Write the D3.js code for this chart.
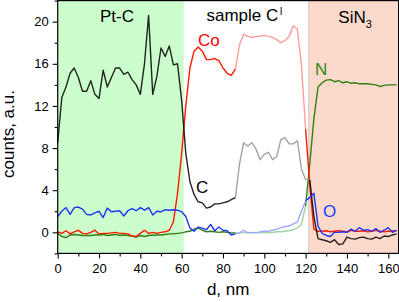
<!DOCTYPE html>
<html><head><meta charset="utf-8">
<script src="https://cdn.jsdelivr.net/npm/d3@7"></script>
<style>
html,body{margin:0;padding:0;background:#fff;}
svg{display:block;font-family:"Liberation Sans",Arial,sans-serif;}
</style></head>
<body><svg id="c" width="399" height="302"></svg>
<script>
// d, nm (step 2)
const depth = d3.range(0, 166, 2);
const seriesNames = ["C", "Co", "N", "O"];
const cValues = [8.5,12.8,13.8,15.1,15.6,14.7,13.4,13.4,14.4,13.1,12.7,15.4,13.8,14.7,15.6,15.6,15.0,15.2,14.5,14.0,
 13.1,16.0,20.6,13.1,14.8,17.5,16.7,17.7,15.9,16.0,12.5,7.5,4.8,3.6,2.9,2.8,2.3,2.4,2.7,2.7,
 2.8,2.9,3.1,3.3,6.5,8.5,8.2,8.5,7.9,6.9,7.4,7.6,6.9,7.2,8.8,9.0,8.4,8.4,8.7,6.0,
 5.0,5.0,1.5,-0.6,-0.7,-0.8,-0.95,-0.7,-1.15,-1.1,-0.45,-0.6,-0.65,-0.5,-0.45,-0.6,-0.65,-0.45,-0.6,-0.35,
 -0.4,-0.25,-0.15];
const coValues = [0.05,-0.1,0.15,-0.15,0.05,0.2,-0.1,-0.15,0.0,0.2,-0.15,-0.1,-0.1,-0.05,0.0,-0.1,-0.1,-0.15,-0.35,-0.4,
 -0.1,0.2,-0.1,0.0,-0.1,0.0,0.05,0.2,1.0,3.7,7.5,12.0,15.6,17.2,17.6,17.2,16.4,16.4,16.5,16.3,
 15.6,15.1,14.9,15.5,17.8,18.8,18.6,18.5,18.6,18.6,18.7,18.6,18.5,18.3,18.0,18.2,18.6,19.6,19.3,15.8,
 9.8,4.5,0.3,0.1,0.1,0.15,0.05,0.1,0.15,0.1,0.05,0.2,0.1,0.1,0.15,0.05,0.1,0.2,0.1,0.05,
 0.1,0.15,0.1];
const nValues = [-0.1,-0.4,-0.5,-0.25,-0.2,-0.25,-0.3,-0.3,-0.3,-0.25,-0.25,-0.2,-0.3,-0.25,-0.2,-0.3,-0.25,-0.3,-0.35,-0.45,
 -0.3,-0.4,-0.3,-0.25,-0.25,-0.25,-0.2,-0.15,-0.15,-0.1,-0.05,0.05,0.1,0.3,0.4,0.2,0.05,0.1,0.05,0.0,
 0.05,0.0,-0.05,-0.05,-0.05,-0.05,0.0,-0.05,0.0,-0.05,0.0,-0.05,0.0,0.05,0.05,0.1,0.15,0.25,0.4,0.8,
 2.5,6.5,10.8,13.8,14.2,14.45,14.5,14.3,14.4,14.2,14.3,14.15,14.2,14.1,14.1,14.1,14.05,14.0,13.85,13.95,
 14.0,14.0,14.0];
const oValues = [1.5,2.0,2.35,1.7,2.35,2.4,2.2,1.7,1.65,1.85,2.0,1.4,2.3,1.95,2.0,2.05,1.55,2.05,2.25,2.05,
 2.35,2.1,2.35,1.65,2.0,1.95,2.15,2.1,2.15,2.1,1.95,1.5,0.4,0.1,0.5,0.4,0.25,0.75,0.15,0.5,
 0.2,0.15,-0.25,-0.15,-0.05,0.2,-0.05,0.0,-0.05,0.05,0.1,0.1,0.2,0.3,0.45,0.55,0.6,0.8,1.0,2.0,
 3.0,3.3,3.7,0.6,-0.1,-0.3,-0.4,0.0,0.0,0.05,0.0,0.3,0.1,0.45,0.2,0.25,0.1,0.35,0.0,0.2,
 0.45,0.0,0.2];
// x-range where each curve is drawn faded (sample C region)
const fadeFrom = [86, 86, 86, 86];
const fadeTo = [122, 120, 120, 120];
const regionNames = ["Pt-C", "sample C", "SiN"];
const regionBounds = [[0, 61], [61, 121.5], [121.5, 165]];
const xTicks = [0,20,40,60,80,100,120,140,160];
const xMinor = [10,30,50,70,90,110,130,150];
const yTicks = [0,4,8,12,16,20];
const yMinor = [-2,2,6,10,14,18,22];

const svg = d3.select("#c");
const x = d3.scaleLinear().domain([0,165]).range([57.7,398.6]);
const y = d3.scaleLinear().domain([-2,22]).range([253.4,0.6]);

// regions
svg.append("rect").attr("x",x(regionBounds[0][0])).attr("y",y(22)).attr("width",x(regionBounds[0][1])-x(regionBounds[0][0])).attr("height",y(-2)-y(22)).attr("fill","#ccfdcc");
svg.append("rect").attr("x",x(regionBounds[2][0])).attr("y",y(22)).attr("width",x(regionBounds[2][1])-x(regionBounds[2][0])).attr("height",y(-2)-y(22)).attr("fill","#fcdacb");
svg.append("line").attr("x1",x(regionBounds[2][0])).attr("x2",x(regionBounds[2][0])).attr("y1",y(22)).attr("y2",y(-2)).attr("stroke","#cfc6c6").attr("stroke-width",1);

const dark = ["#000000","#ff1a00","#2f7f12","#1f36f0"];
const light = ["#a3a3a3","#ff9d9d","#9ed49a","#9ea8ff"];
const allVals = [cValues, coValues, nValues, oValues];
const line = d3.line().x(d=>x(d[0])).y(d=>y(d[1]));
const order = [2,1,0,3];
order.forEach(i=>{
  const pts = depth.map((d,k)=>[d, allVals[i][k]]);
  const a = pts.filter(p=>p[0]<=fadeFrom[i]);
  const b = pts.filter(p=>p[0]>=fadeFrom[i] && p[0]<=fadeTo[i]);
  const c = pts.filter(p=>p[0]>=fadeTo[i]);
  svg.append("path").attr("d",line(b)).attr("fill","none").attr("stroke",light[i]).attr("stroke-width",1.4).attr("stroke-linejoin","round");
  [a,c].forEach(seg=>{
    svg.append("path").attr("d",line(seg)).attr("fill","none").attr("stroke",dark[i]).attr("stroke-opacity", i===0?0.85:1).attr("stroke-width",1.4).attr("stroke-linejoin","round");
  });
});

// frame
svg.append("rect").attr("x",x(0)).attr("y",y(22)).attr("width",x(165)-x(0)).attr("height",y(-2)-y(22)).attr("fill","none").attr("stroke","#000").attr("stroke-width",1.2);

function styleAxis(g){ g.select(".domain").remove(); g.selectAll("line").attr("stroke","#000").attr("stroke-width",1.1); g.selectAll("text").attr("fill","#000").style("font-size","13px").style("font-family","'Liberation Sans',Arial,sans-serif"); }
const gx = svg.append("g").attr("transform",`translate(0,${y(-2)})`).call(d3.axisBottom(x).tickValues(xTicks).tickSize(5).tickPadding(5).tickFormat(d3.format("d")));
styleAxis(gx);
const gxm = svg.append("g").attr("transform",`translate(0,${y(-2)})`).call(d3.axisBottom(x).tickValues(xMinor).tickSize(3).tickFormat(""));
styleAxis(gxm);
const gy = svg.append("g").attr("transform",`translate(${x(0)},0)`).call(d3.axisLeft(y).tickValues(yTicks).tickSize(5).tickPadding(4).tickFormat(d3.format("d")));
styleAxis(gy);
const gym = svg.append("g").attr("transform",`translate(${x(0)},0)`).call(d3.axisLeft(y).tickValues(yMinor).tickSize(3).tickFormat(""));
styleAxis(gym);
const gyr = svg.append("g").attr("transform",`translate(${x(165)},0)`).call(d3.axisLeft(y).tickValues(yTicks).tickSize(-4).tickFormat(""));
styleAxis(gyr);

// axis titles
svg.append("text").attr("x",(x(0)+x(165))/2).attr("y",295).attr("text-anchor","middle").style("font-size","17px").text("d, nm");
svg.append("text").attr("transform","translate(14,134) rotate(-90)").attr("text-anchor","middle").style("font-size","17px").text("counts, a.u.");

// region labels
svg.append("text").attr("x",100).attr("y",21.7).style("font-size","17px").text(regionNames[0]);
const t2 = svg.append("text").attr("x",206.5).attr("y",21.2).style("font-size","17px");
t2.append("tspan").text(regionNames[1]);
t2.append("tspan").attr("dy",-6.5).attr("dx",1.5).style("font-size","10px").text("I");
const t3 = svg.append("text").attr("x",338.3).attr("y",22.5).style("font-size","17px");
t3.append("tspan").text(regionNames[2]);
t3.append("tspan").attr("dy",5.5).style("font-size","11px").text("3");

// series labels
const labelPos = [[196,193.3],[198,46],[315,75],[323,216.7]];
const labelCol = ["#000","#ff0000","#2f8a12","#1a3cff"];
seriesNames.forEach((n,i)=>{
  svg.append("text").attr("x",labelPos[i][0]).attr("y",labelPos[i][1]).attr("fill",labelCol[i]).style("font-size","17px").text(n);
});
</script></body></html>
